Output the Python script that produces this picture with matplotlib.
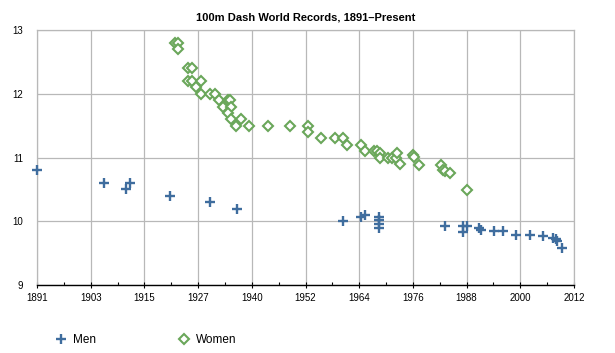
import matplotlib
matplotlib.use("Agg")
import matplotlib.pyplot as plt
from matplotlib.lines import Line2D
import numpy as np

plt.rcParams['font.family'] = ['Liberation Sans', 'DejaVu Sans']

title = "100m Dash World Records, 1891\u2013Present"

men_years = [1891, 1906, 1911, 1912, 1921, 1930, 1936, 1960, 1964.1, 1965.0,
             1968, 1968, 1968, 1968, 1983, 1987, 1987, 1988, 1990.7, 1991,
             1994, 1996, 1999, 2002, 2005, 2007.3, 2007.9, 2008.2, 2009.2]
men_times = [10.8, 10.6, 10.5, 10.6, 10.4, 10.3, 10.2, 10.0, 10.06, 10.1,
             10.06, 10.02, 9.95, 9.9, 9.93, 9.93, 9.83, 9.92, 9.90, 9.86,
             9.85, 9.84, 9.79, 9.78, 9.77, 9.74, 9.72, 9.69, 9.58]

women_years = [1922.1, 1922.8, 1922.8, 1925.0, 1926.0, 1925.0, 1926.0, 1927.9, 1926.8, 1927.9,
               1930.0, 1931.0, 1932.0, 1933.0, 1934.0, 1934.6, 1934.8, 1934.0, 1934.8, 1935.9,
               1937.0, 1938.8, 1943.0, 1948.0, 1952.0, 1952.1, 1955.0, 1958.1, 1960.0, 1960.9,
               1964.1, 1964.9, 1966.9, 1967.7, 1968.2, 1968.2, 1970.0, 1971.0, 1971.8, 1972.2,
               1972.9, 1975.8, 1976.0, 1977.0, 1982.0, 1982.5, 1983.0, 1984.1, 1988.0]
women_times = [12.8, 12.8, 12.7, 12.4, 12.4, 12.2, 12.2, 12.2, 12.1, 12.0,
               12.0, 12.0, 11.9, 11.8, 11.9, 11.9, 11.8, 11.7, 11.6, 11.5,
               11.6, 11.5, 11.5, 11.5, 11.5, 11.4, 11.3, 11.3, 11.3, 11.2,
               11.2, 11.1, 11.1, 11.1, 11.07, 11.0, 11.0, 11.0, 11.0, 11.07,
               10.9, 11.04, 11.01, 10.88, 10.88, 10.81, 10.79, 10.76, 10.49]

x_tick_labels = ["1891", "1903", "1915", "1927", "1940", "1952", "1964", "1976", "1988", "2000", "2012"]
y_ticks = [9, 10, 11, 12, 13]
x_min, x_max = 1891, 2012

men_color = "#3f6d9e"
women_color = "#6aa75a"
grid_color = "#b8b8b8"

fig = plt.figure(figsize=(6.15, 3.53), dpi=100)
ax = fig.add_axes([37/615, 1-285/353, (574-37)/615, (285-30)/353])

ax.plot(men_years, men_times, linestyle='none', marker='+', markersize=7.5,
        markeredgewidth=1.7, color=men_color, clip_on=False, zorder=3, label="Men")
ax.plot(women_years, women_times, linestyle='none', marker='D', markersize=5,
        markeredgewidth=1.5, markerfacecolor='white', markeredgecolor=women_color,
        clip_on=False, zorder=3, label="Women")

ax.set_xlim(x_min, x_max)
ax.set_ylim(9, 13)
xt = np.linspace(x_min, x_max, len(x_tick_labels))
ax.set_xticks(xt)
ax.set_xticklabels(x_tick_labels, fontsize=7)
ax.set_xticks((xt[:-1] + xt[1:]) / 2, minor=True)
ax.set_yticks(y_ticks)
ax.set_yticklabels([str(v) for v in y_ticks], fontsize=7)

ax.grid(True, which='major', color=grid_color, linewidth=0.9)
ax.set_axisbelow(True)
for s in ['top', 'right', 'left']:
    ax.spines[s].set_color(grid_color)
    ax.spines[s].set_linewidth(0.9)
ax.spines['bottom'].set_color('black')
ax.spines['bottom'].set_linewidth(1.0)
ax.tick_params(axis='y', length=0, pad=10)
ax.tick_params(axis='x', which='major', direction='inout', length=5, width=0.8, pad=3)
ax.tick_params(axis='x', which='minor', direction='in', length=2.5, width=0.8)

fig.text(305.5/615, 1-17.5/353, title, ha='center', va='center', fontsize=8, fontweight='bold')

handles = [Line2D([], [], linestyle='none', marker='+', markersize=7.5, markeredgewidth=1.7, color=men_color),
           Line2D([], [], linestyle='none', marker='D', markersize=5, markeredgewidth=1.5,
                  markerfacecolor='white', markeredgecolor=women_color)]
fig.legend(handles, ["Men", "Women"], loc='center left', bbox_to_anchor=(55/615, 1-340/353),
           ncol=2, frameon=False, fontsize=8.5, handlelength=1.0, handletextpad=0.5,
           columnspacing=7.0, borderpad=0, borderaxespad=0)

fig.savefig("out.png", dpi=100)
